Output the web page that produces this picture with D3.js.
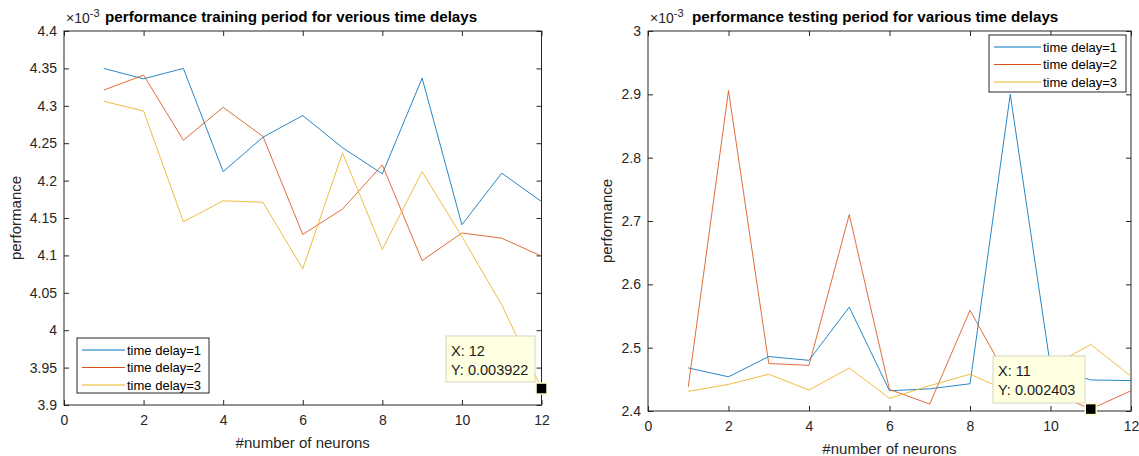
<!DOCTYPE html>
<html><head><meta charset="utf-8">
<script src="https://cdn.jsdelivr.net/npm/d3@7"></script>
<style>
body{margin:0;background:#fff;}
svg{display:block;font-family:"Liberation Sans",Arial,Helvetica,sans-serif;}
</style></head>
<body><svg id="c" width="1139" height="456"></svg>
<script>
const neurons = [1,2,3,4,5,6,7,8,9,10,11,12];
const seriesNames = ["time delay=1","time delay=2","time delay=3"];
const colors = ["#0072BD","#D95319","#EDB120"];

// training performance (x1e-3)
const trainTD1 = [4.350,4.336,4.350,4.212,4.258,4.287,4.244,4.209,4.337,4.141,4.210,4.172];
const trainTD2 = [4.321,4.341,4.254,4.298,4.259,4.128,4.162,4.221,4.093,4.130,4.123,4.099];
const trainTD3 = [4.306,4.293,4.145,4.173,4.171,4.082,4.237,4.108,4.212,4.125,4.034,3.922];
// testing performance (x1e-3)
const testTD1 = [2.468,2.454,2.486,2.480,2.564,2.432,2.435,2.443,2.900,2.470,2.449,2.448];
const testTD2 = [2.438,2.906,2.475,2.472,2.710,2.434,2.411,2.559,2.445,2.430,2.403,2.432];
const testTD3 = [2.431,2.442,2.458,2.433,2.468,2.420,2.440,2.458,2.430,2.470,2.505,2.455];

const xTicks = [0,2,4,6,8,10,12];
const trainYTicks = [3.9,3.95,4,4.05,4.1,4.15,4.2,4.25,4.3,4.35,4.4];
const testYTicks = [2.4,2.5,2.6,2.7,2.8,2.9,3];

const svg = d3.select("#c");
const axisCol = "#262626";

function panel(o){
  const g = svg.append("g");
  const x = d3.scaleLinear().domain([0,12]).range([o.x0,o.x1]);
  const y = d3.scaleLinear().domain(o.yDom).range([o.y1,o.y0]);
  const tl = 5;
  g.append("rect").attr("x",o.x0).attr("y",o.y0).attr("width",o.x1-o.x0).attr("height",o.y1-o.y0)
    .attr("fill","#fff").attr("stroke",axisCol).attr("stroke-width",1);
  const fmt = d => String(+d.toFixed(2));
  const ax = g.append("g").attr("transform",`translate(0,${o.y1})`)
    .call(d3.axisBottom(x).tickValues(xTicks).tickSize(-tl).tickPadding(10).tickFormat(d=>d));
  const axT = g.append("g").attr("transform",`translate(0,${o.y0})`)
    .call(d3.axisTop(x).tickValues(xTicks).tickSize(-tl).tickFormat(""));
  const ay = g.append("g").attr("transform",`translate(${o.x0},0)`)
    .call(d3.axisLeft(y).tickValues(o.yTicks).tickSize(-tl).tickPadding(7).tickFormat(fmt));
  const ayR = g.append("g").attr("transform",`translate(${o.x1},0)`)
    .call(d3.axisRight(y).tickValues(o.yTicks).tickSize(-tl).tickFormat(""));
  [ax,axT,ay,ayR].forEach(a=>{
    a.select(".domain").remove();
    a.selectAll("line").attr("stroke",axisCol);
    a.selectAll("text").attr("fill",axisCol).attr("font-size","14px").attr("font-family","Liberation Sans,Arial,sans-serif");
  });
  const line = d3.line().x((d,i)=>x(neurons[i])).y(d=>y(d));
  o.data.forEach((s,k)=>{
    g.append("path").datum(s).attr("d",line).attr("fill","none")
      .attr("stroke",colors[k]).attr("stroke-width",1).attr("stroke-opacity",0.85);
  });
  const ex = g.append("text").attr("x",o.x0+2).attr("y",o.y0-8).attr("fill",axisCol)
    .attr("font-size","14px");
  ex.append("tspan").text("×10");
  ex.append("tspan").attr("dy",-6).attr("font-size","11px").text("-3");
  g.append("text").attr("x",o.titleX).attr("y",o.y0-9).attr("font-weight","bold")
    .attr("font-size","15.2px").attr("fill","#000").text(o.title);
  g.append("text").attr("x",(o.x0+o.x1)/2).attr("y",o.xlabY).attr("text-anchor","middle")
    .attr("fill",axisCol).attr("font-size","15px").text("#number of neurons");
  g.append("text").attr("transform",`translate(${o.ylabX},${(o.y0+o.y1)/2}) rotate(-90)`)
    .attr("text-anchor","middle").attr("fill",axisCol).attr("font-size","15px").text("performance");
  const L = o.legend;
  g.append("rect").attr("x",L.x).attr("y",L.y).attr("width",L.w).attr("height",L.h)
    .attr("fill","#fff").attr("stroke",axisCol).attr("stroke-width",1);
  seriesNames.forEach((n,k)=>{
    const yy = L.y + 12 + k*17.5;
    g.append("line").attr("x1",L.x+5).attr("x2",L.x+5+L.lw).attr("y1",yy).attr("y2",yy)
      .attr("stroke",colors[k]).attr("stroke-width",1);
    g.append("text").attr("x",L.x+7+L.lw).attr("y",yy+4.5).attr("font-size","13px").attr("fill","#000").text(n);
  });
  const T = o.tip;
  const mx = x(T.xv), my = y(T.yv);
  g.append("rect").attr("x",T.bx).attr("y",T.by).attr("width",T.bw).attr("height",T.bh)
    .attr("fill","#ffffe1").attr("stroke","#d6d6c2").attr("stroke-width",1);
  g.append("text").attr("x",T.bx+5).attr("y",T.by+20).attr("font-size","14.5px").attr("fill","#1a1a1a").text("X: "+T.xv);
  g.append("text").attr("x",T.bx+5).attr("y",T.by+39).attr("font-size","14.5px").attr("fill","#1a1a1a").text("Y: "+T.label);
  g.append("rect").attr("x",mx-5.5).attr("y",my-5.5).attr("width",11).attr("height",11)
    .attr("fill","#000").attr("stroke","#ffffcc").attr("stroke-width",1.5);
}

panel({x0:64,x1:541.5,y0:31,y1:405,yDom:[3.9,4.4],yTicks:trainYTicks,
  data:[trainTD1,trainTD2,trainTD3],
  title:"performance training period for verious time delays",titleX:105,
  xlabY:448,ylabX:21,
  legend:{x:77,y:338,w:132,h:55,lw:43},
  tip:{xv:12,yv:3.922,label:"0.003922",bx:446,by:336,bw:89,bh:46}});

panel({x0:648,x1:1131,y0:31,y1:411,yDom:[2.4,3],yTicks:testYTicks,
  data:[testTD1,testTD2,testTD3],
  title:"performance testing period for various time delays",titleX:692,
  xlabY:454,ylabX:612,
  legend:{x:989,y:35,w:137,h:57,lw:47},
  tip:{xv:11,yv:2.403,label:"0.002403",bx:993,by:356,bw:92,bh:47}});
</script></body></html>
